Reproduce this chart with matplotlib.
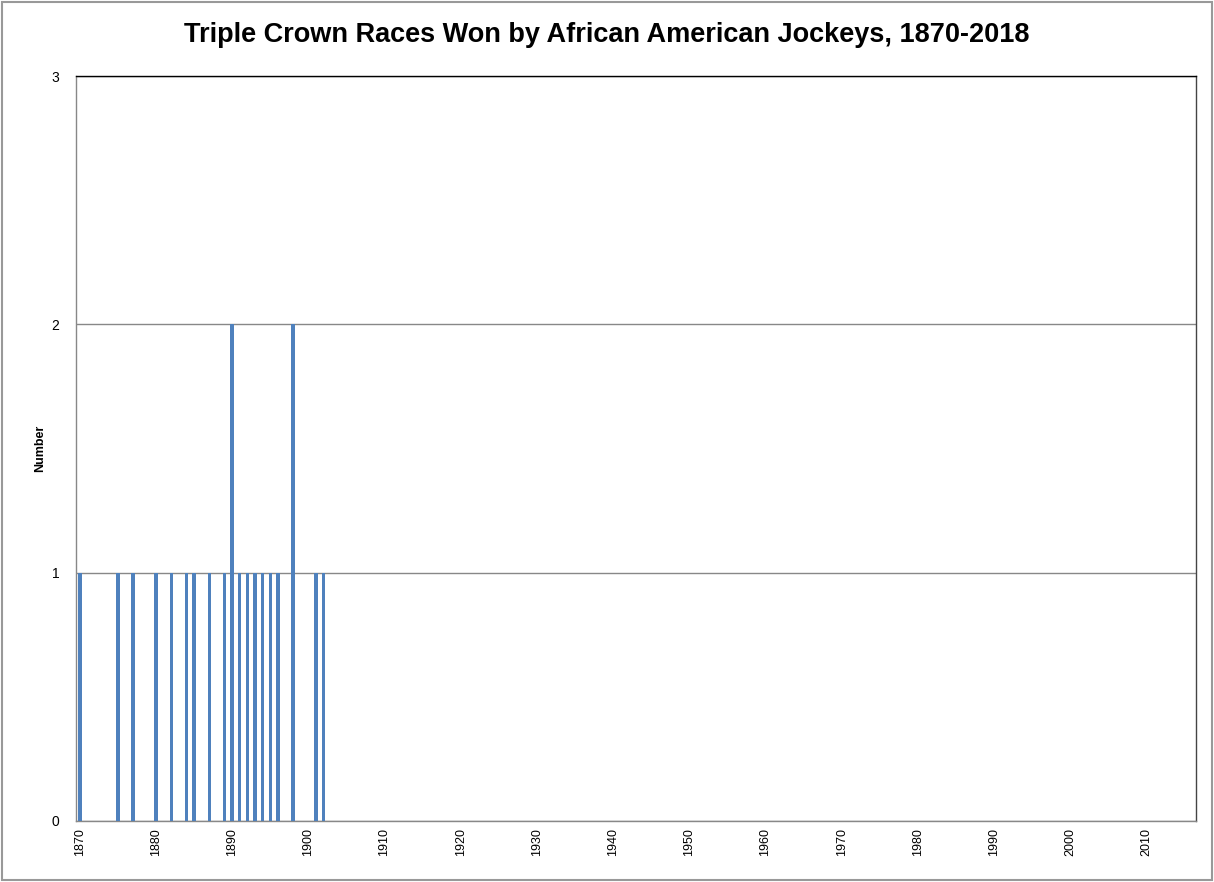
import matplotlib.pyplot as plt
from matplotlib.patches import Rectangle

# Years with at least one Triple Crown race won by an African American jockey
years = [1870, 1875, 1877, 1880, 1882, 1884, 1885, 1887, 1889, 1890,
         1891, 1892, 1893, 1894, 1895, 1896, 1898, 1901, 1902]
wins = [1, 1, 1, 1, 1, 1, 1, 1, 1, 2,
        1, 1, 1, 1, 1, 1, 2, 1, 1]

tick_years = list(range(1870, 2011, 10))
y_ticks = [0, 1, 2, 3]

plt.rcParams['font.family'] = ['Liberation Sans', 'DejaVu Sans']

fig = plt.figure(figsize=(12.14, 8.82), dpi=100)
ax = fig.add_axes([0.0626, 0.0692, 0.9224, 0.8446])

ax.bar(years, wins, width=0.45, color='#4F81BD', zorder=3)

ax.set_xlim(1869.5, 2016.5)
ax.set_ylim(0, 3)
ax.set_yticks(y_ticks)
ax.set_xticks(tick_years)
ax.set_xticklabels([str(y) for y in tick_years], rotation=90, fontsize=9)
ax.tick_params(axis='y', labelsize=10, length=0, pad=12)
ax.tick_params(axis='x', length=0, pad=5)
ax.grid(axis='y', color='#888888', linewidth=1, zorder=0)

ax.spines['left'].set_color('#888888')
ax.spines['bottom'].set_color('#888888')
ax.spines['top'].set_color('#000000')
ax.spines['right'].set_color('#444444')
for s in ax.spines.values():
    s.set_linewidth(1)

ax.set_ylabel('Number', fontsize=9, fontweight='bold', labelpad=4)
fig.suptitle('Triple Crown Races Won by African American Jockeys, 1870-2018',
             fontsize=19.5, fontweight='bold', y=0.975)

# chart area frame
fig.patches.append(Rectangle((0.002, 0.002), 0.996, 0.996, transform=fig.transFigure,
                             fill=False, edgecolor='#999999', linewidth=1.5))

fig.savefig('out.png', dpi=100)
